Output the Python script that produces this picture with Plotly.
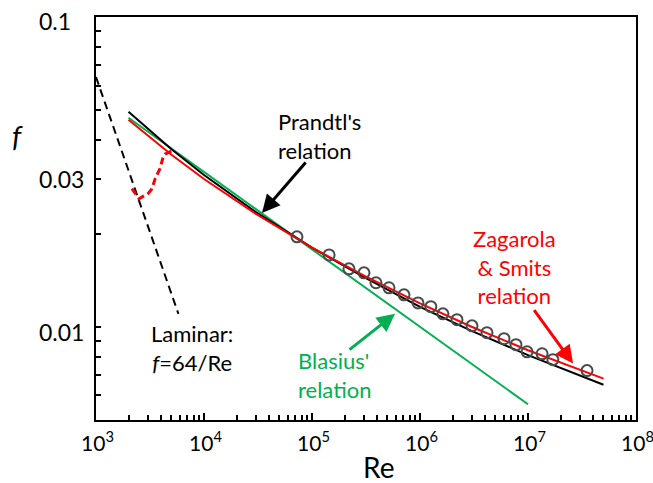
import plotly.graph_objects as go
import math

# ---- data ----
re_laminar = [1000, 5800]
f_laminar = [0.064, 0.011]

re_trans = [2150, 2500, 3030, 3300, 3520, 3910, 4170, 4350, 5060]
f_trans = [0.0279, 0.0259, 0.0269, 0.0279, 0.0300, 0.0324, 0.0351, 0.0361, 0.0370]

re_prandtl = [2000, 5000, 1e4, 3e4, 1e5, 3e5, 1e6, 3e6, 1e7, 3e7, 5e7]
f_prandtl = [0.0494, 0.0374, 0.0309, 0.0235, 0.0180, 0.0145, 0.0116, 0.0097, 0.0081, 0.00695, 0.0065]

re_zs = [2000, 5000, 1e4, 3e4, 1e5, 3e5, 1e6, 3e6, 1e7, 3e7, 5e7]
f_zs = [0.0466, 0.0359, 0.0300, 0.0232, 0.0180, 0.01465, 0.0119, 0.0100, 0.0084, 0.00725, 0.0068]

re_blasius = [2000, 1e4, 1e5, 1e6, 1e7]
f_blasius = [0.0473, 0.0316, 0.0178, 0.0100, 0.00562]

re_data = [7.26e4, 1.44e5, 2.20e5, 3.03e5, 3.91e5, 5.16e5, 7.11e5, 9.58e5, 1.26e6, 1.63e6,
           2.20e6, 3.03e6, 4.17e6, 6.0e6, 7.74e6, 9.8e6, 1.35e7, 1.70e7, 3.52e7]
f_data = [0.01951, 0.01706, 0.01538, 0.01493, 0.01387, 0.01336, 0.01268, 0.01194, 0.01161, 0.01101,
          0.01054, 0.01007, 0.00957, 0.00915, 0.00875, 0.00830, 0.00818, 0.00783, 0.00722]

x_tick_vals = [1e3, 1e4, 1e5, 1e6, 1e7, 1e8]
x_tick_text = ["10<sup>3</sup>", "10<sup>4</sup>", "10<sup>5</sup>", "10<sup>6</sup>",
               "10<sup>7</sup>", "10<sup>8</sup>"]
y_label_vals = [0.1, 0.03, 0.01]
y_label_text = ["0.1", "0.03", "0.01"]
y_tick_vals = [0.005, 0.006, 0.007, 0.008, 0.009, 0.01, 0.02, 0.03, 0.04, 0.05,
               0.06, 0.07, 0.08, 0.09, 0.1]

FONT = "Lato"
GREEN = "#00b050"
RED = "#ff0000"
TXT = 22

# plot-area geometry in pixels
W, H = 653, 483
L, R, T, B = 96, 17, 17, 63
PW, PH = W - L - R, H - T - B


def px(xp):
    return (xp - L) / PW


def py(yp):
    return (H - B - yp) / PH


fig = go.Figure()

fig.add_trace(go.Scatter(x=re_laminar, y=f_laminar, mode="lines",
                         line=dict(color="black", width=2, dash="8px,5px")))
fig.add_trace(go.Scatter(x=re_trans, y=f_trans, mode="lines",
                         line=dict(color=RED, width=3, dash="7px,4px")))
fig.add_trace(go.Scatter(x=re_blasius, y=f_blasius, mode="lines",
                         line=dict(color=GREEN, width=2)))
fig.add_trace(go.Scatter(x=re_prandtl, y=f_prandtl, mode="lines",
                         line=dict(color="black", width=2)))
fig.add_trace(go.Scatter(x=re_zs, y=f_zs, mode="lines",
                         line=dict(color=RED, width=2)))
fig.add_trace(go.Scatter(x=re_data, y=f_data, mode="markers",
                         marker=dict(symbol="circle-open", size=11, color="#4a4a4a",
                                     line=dict(color="#4a4a4a", width=2))))

ann = []
# y tick labels (left aligned as in reference)
for v, t, s in zip(y_label_vals, y_label_text, [-4, 0, -5]):
    ann.append(dict(x=px(37), xref="paper", y=math.log10(v), yref="y", text=t,
                    xanchor="left", yanchor="middle", showarrow=False, yshift=s,
                    font=dict(family=FONT, size=23, color="black")))

# x tick labels
for v, t in zip(x_tick_vals, x_tick_text):
    ann.append(dict(x=math.log10(v), xref="x", y=py(441), yref="paper", text=t,
                    xanchor="center", yanchor="middle", showarrow=False, xshift=1,
                    font=dict(family=FONT, size=21, color="black")))

# axis titles
ann.append(dict(x=px(17), xref="paper", y=py(135), yref="paper", text="<i>f</i>",
                showarrow=False, xanchor="center", yanchor="middle",
                font=dict(family=FONT, size=29, color="black")))
ann.append(dict(x=px(378), xref="paper", y=py(467), yref="paper", text="Re",
                showarrow=False, xanchor="center", yanchor="middle",
                font=dict(family=FONT, size=28, color="black")))

# text labels
ann.append(dict(x=px(276), y=py(136), xref="paper", yref="paper",
                text="Prandtl's<br>relation", align="left", xanchor="left", yanchor="middle",
                showarrow=False, font=dict(family=FONT, size=TXT, color="black")))
ann.append(dict(x=px(192), y=py(348), xref="paper", yref="paper",
                text="Laminar:<br><i>f</i>=64/Re", align="center", xanchor="center",
                yanchor="middle", showarrow=False,
                font=dict(family=FONT, size=TXT, color="black")))
ann.append(dict(x=px(296), y=py(375), xref="paper", yref="paper",
                text="Blasius'<br>relation", align="left", xanchor="left", yanchor="middle",
                showarrow=False, font=dict(family=FONT, size=TXT, color=GREEN)))
ann.append(dict(x=px(514), y=py(267), xref="paper", yref="paper",
                text="Zagarola<br>& Smits<br>relation", align="center", xanchor="center",
                yanchor="middle", showarrow=False,
                font=dict(family=FONT, size=TXT, color=RED)))

# arrows (tip in data coords, tail offset in px)
ann.append(dict(x=math.log10(3.44e4), y=math.log10(0.0233), xref="x", yref="y",
                ax=45, ay=-52, showarrow=True, arrowhead=2, arrowsize=1.2,
                arrowwidth=3, arrowcolor="black", text=""))
ann.append(dict(x=5.769, y=-1.958, xref="x", yref="y",
                ax=-47, ay=37, showarrow=True, arrowhead=2, arrowsize=1.2,
                arrowwidth=3, arrowcolor=GREEN, text=""))
ann.append(dict(x=7.417, y=-2.119, xref="x", yref="y",
                ax=-40, ay=-55, showarrow=True, arrowhead=2, arrowsize=1.2,
                arrowwidth=3, arrowcolor=RED, text=""))

fig.update_layout(
    width=W, height=H,
    margin=dict(l=L, r=R, t=T, b=B, pad=0, autoexpand=False),
    paper_bgcolor="white", plot_bgcolor="white",
    showlegend=False,
    annotations=ann,
    xaxis=dict(type="log", range=[3, 8], showgrid=False, zeroline=False, automargin=False,
               showline=True, linecolor="black", linewidth=2, mirror=True,
               ticks="inside", ticklen=7, tickwidth=1.5, tickcolor="black",
               tickvals=x_tick_vals, showticklabels=False,
               minor=dict(ticks="inside", ticklen=5, tickwidth=1.5, tickcolor="black",
                          dtick="D1", showgrid=False)),
    yaxis=dict(type="log", range=[math.log10(0.005), -1], showgrid=False, zeroline=False,
               automargin=False,
               showline=True, linecolor="black", linewidth=2, mirror=True,
               ticks="inside", ticklen=5, tickwidth=1.5, tickcolor="black",
               tickvals=y_tick_vals, showticklabels=False),
)

fig.write_html("out.html")
